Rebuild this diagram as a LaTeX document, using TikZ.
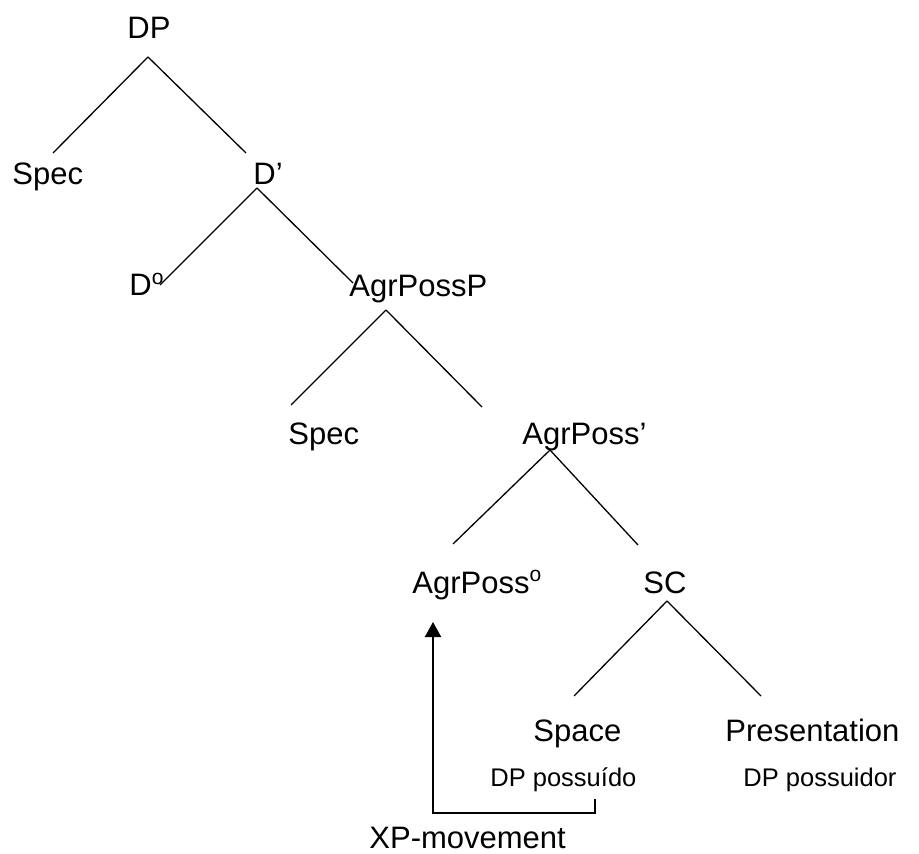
\documentclass[tikz,border=0pt]{standalone}
\usepackage{fontspec}
\setmainfont{Liberation Sans}
\usetikzlibrary{arrows.meta, calc}
\newcommand{\ordo}{\raisebox{0.36em}{\fontsize{10.5}{10.5}\selectfont o}}

\begin{document}
\begin{tikzpicture}[
    x=0.5pt, y=-0.5pt,
    cat/.style={anchor=base west, inner sep=0pt, font=\fontsize{15.5}{18}\selectfont},
    gloss/.style={anchor=base west, inner sep=0pt, font=\fontsize{12.75}{15}\selectfont},
    branch/.style={line width=0.65pt},
    move/.style={line width=1pt, -{Triangle[width=8pt, length=7.5pt]}},
]

% Canvas
\useasboundingbox (0,0) rectangle (919,854);

% === Labels ===
\node[cat] (dp)     at (127, 39)  {DP};
\node[cat] (spec1)  at (12, 185)  {Spec};
\node[cat] (dbar)   at (253, 185) {D’};
\node[cat] (d0)     at (129, 296) {D\ordo};
\node[cat] (agrp)   at (349, 297) {AgrPossP};
\node[cat] (spec2)  at (288, 445) {Spec};
\node[cat] (agrbar) at (522, 445) {AgrPoss’};
\node[cat] (agr0)   at (412, 593) {AgrPoss\ordo};
\node[cat] (sc)     at (643, 593) {SC};
\node[cat] (space)  at (533, 741) {Space};
\node[cat] (pres)   at (725, 741) {Presentation};
\node[gloss] (possuido) at (490, 786) {DP possuído};
\node[gloss] (possuidor) at (743, 786) {DP possuidor};
\node[cat] (xpmove) at (369, 848) {XP-movement};

% === Branches ===
\draw[branch] ([shift={(21,18)}]dp.base west) -- ([shift={(41,-32)}]spec1.base west);
\draw[branch] ([shift={(21,18)}]dp.base west) -- ([shift={(-7,-32)}]dbar.base west);
\draw[branch] ([shift={(4,3)}]dbar.base west) -- ([shift={(31,-11)}]d0.base west);
\draw[branch] ([shift={(4,3)}]dbar.base west) -- ([shift={(4,-14)}]agrp.base west);
\draw[branch] ([shift={(37,13)}]agrp.base west) -- ([shift={(3,-40)}]spec2.base west);
\draw[branch] ([shift={(37,13)}]agrp.base west) -- ([shift={(-40,-38)}]agrbar.base west);
\draw[branch] ([shift={(28,5)}]agrbar.base west) -- ([shift={(41,-49)}]agr0.base west);
\draw[branch] ([shift={(28,5)}]agrbar.base west) -- ([shift={(-5,-48)}]sc.base west);
\draw[branch] ([shift={(24,8)}]sc.base west) -- ([shift={(41,-45)}]space.base west);
\draw[branch] ([shift={(24,8)}]sc.base west) -- ([shift={(36,-45)}]pres.base west);

% === Movement arrow ===
\draw[move] ([shift={(105,13)}]possuido.base west) -- ++(0,14)
      -| ([shift={(21,29)}]agr0.base west);

\end{tikzpicture}
\end{document}
